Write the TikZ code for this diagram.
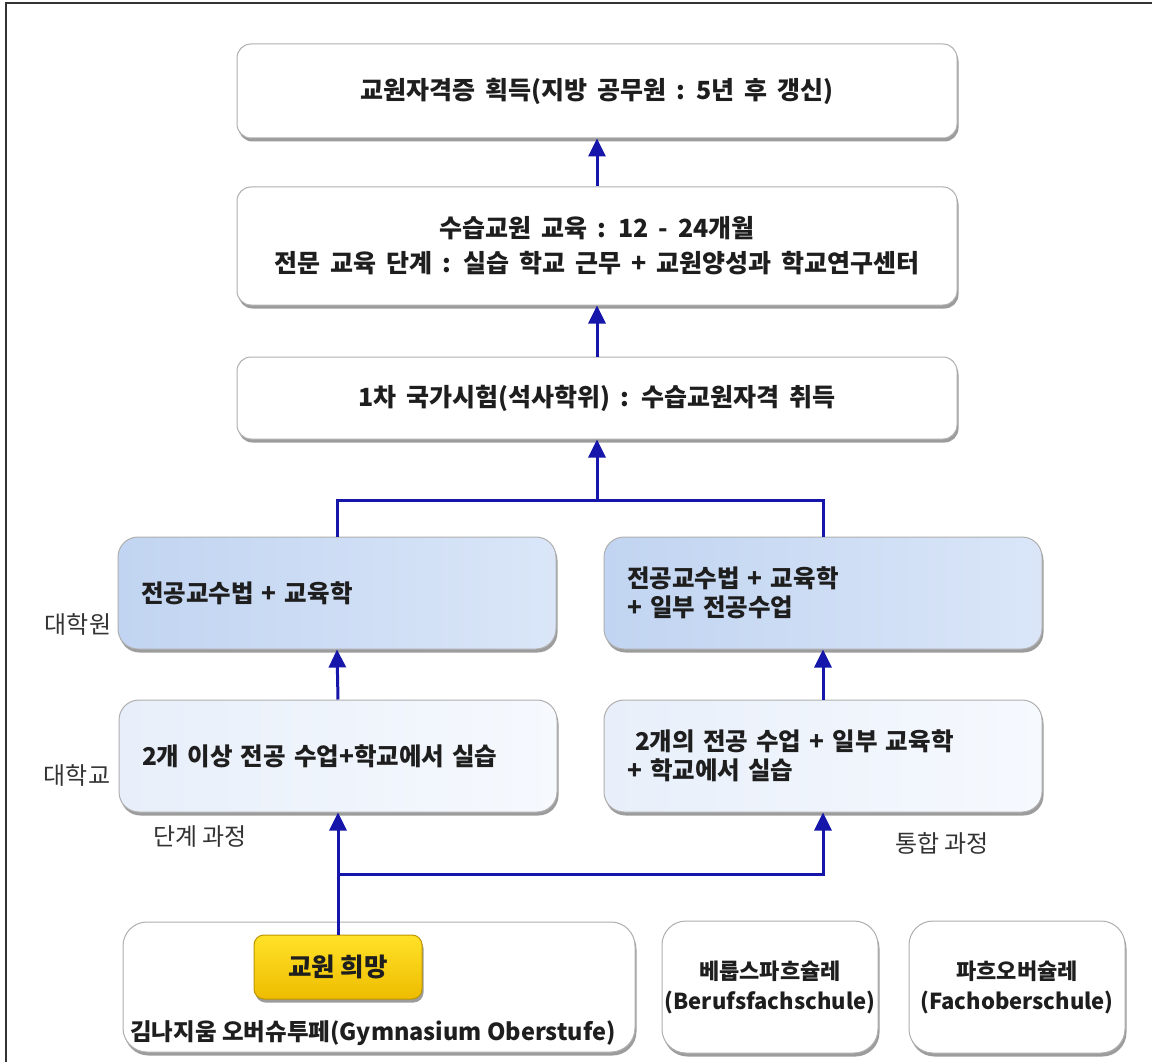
\documentclass[tikz,border=0pt]{standalone}
\usepackage{fontspec}
\setmainfont{Noto Sans CJK KR}
\usetikzlibrary{arrows.meta,shadows}
\definecolor{arrowblue}{RGB}{22,22,170}
\definecolor{txt}{RGB}{30,30,30}
\definecolor{bordergray}{RGB}{175,175,175}
\definecolor{blueA}{RGB}{193,212,241}
\definecolor{blueB}{RGB}{218,230,248}
\definecolor{lightA}{RGB}{232,239,250}
\definecolor{lightB}{RGB}{246,249,254}
\definecolor{goldA}{RGB}{255,226,40}
\definecolor{goldB}{RGB}{238,188,0}
\definecolor{goldD}{RGB}{190,150,0}
\newcommand\fbig{\fontsize{25pt}{35pt}\selectfont\bfseries\spaceskip=10pt plus 2pt minus 2pt\relax}
\newcommand\fmid{\fontsize{24.5pt}{29pt}\selectfont\bfseries}
\newcommand\fgym{\fontsize{23.5pt}{29pt}\selectfont\bfseries}
\newcommand\fschool{\fontsize{22pt}{30pt}\selectfont\bfseries}
\newcommand\fgold{\fontsize{25.5pt}{29pt}\selectfont\bfseries}
\newcommand\fside{\fontsize{24pt}{28pt}\selectfont}
\tikzset{
  x=1pt, y=-1pt,
  shade/.style={drop shadow={shadow xshift=1.5pt, shadow yshift=-3.5pt, opacity=0.55, fill=black!70}},
  topbox/.style={shade, draw=bordergray, line width=1pt, fill=white, rounded corners=14pt,
    minimum width=720pt, text=txt, align=center, font=\fbig, inner sep=0pt},
  bluebox/.style={shade, draw=bordergray, line width=1pt, left color=blueA, right color=blueB,
    rounded corners=20pt, minimum width=438pt, minimum height=112pt, text width=392pt,
    inner xsep=23pt, inner ysep=0pt, align=left, text=txt, font=\fmid},
  lightbox/.style={bluebox, left color=lightA, right color=lightB},
  schoolbox/.style={shade, draw=bordergray, line width=1pt, fill=white, rounded corners=24pt,
    inner sep=0pt, align=center, text=txt, font=\fschool},
  goldbox/.style={shade, draw=goldD, line width=1pt, top color=goldA, bottom color=goldB,
    rounded corners=10pt, minimum width=168pt, minimum height=64pt, inner sep=0pt,
    text=txt, font=\fgold},
  sidelabel/.style={text=black!80, font=\fside, inner sep=0pt},
  conn/.style={draw=arrowblue, line width=3pt},
  arr/.style={conn, -{Triangle[length=18pt,width=17pt]}}
}
\begin{document}
\begin{tikzpicture}
\useasboundingbox (0,0) rectangle (1152,1062);
\fill[white] (0,0) rectangle (1152,1062);
\draw[black!80, line width=2pt] (6,1070) -- (6,3) -- (1160,3);

% top chain
\node[topbox, minimum height=94pt] (t1) at (597,91) {교원자격증 획득(지방 공무원 : 5년 후 갱신)};
\node[topbox, minimum height=118pt] (t2) at (597,246) {수습교원 교육 : 12 - 24개월\\전문 교육 단계 : 실습 학교 근무 + 교원양성과 학교연구센터};
\node[topbox, minimum height=82pt] (t3) at (597,398) {1차 국가시험(석사학위) : 수습교원자격 취득};

% graduate level
\node[bluebox] (bl) at (337,593) {전공교수법 + 교육학};
\node[bluebox] (br) at (823,593) {전공교수법 + 교육학\\+ 일부 전공수업};

% university level
\node[lightbox] (ll) at (338,756) {2개 이상 전공 수업+학교에서 실습};
\node[lightbox] (rl) at (823,756) {\hspace*{8pt}2개의 전공 수업 + 일부 교육학\\+ 학교에서 실습};

% schools
\node[schoolbox, minimum width=512pt, minimum height=130pt] (gy) at (379,987) {};
\node[text=txt, font=\fgym, inner sep=0pt] (gyt) at (373,1033) {김나지움 오버슈투페(Gymnasium Oberstufe)};
\node[goldbox] (wish) at (338,967) {교원 희망};
\node[schoolbox, minimum width=216pt, minimum height=132pt] (bf) at (770,987) {베룹스파흐슐레\\(Berufsfachschule)};
\node[schoolbox, minimum width=216pt, minimum height=132pt] (fo) at (1017,987) {파흐오버슐레\\(Fachoberschule)};

% side labels
\node[sidelabel] (lgrad) at (78,624) {대학원};
\node[sidelabel] (luni) at (77,775) {대학교};
\node[sidelabel] (lstep) at (200,837) {단계 과정};
\node[sidelabel] (lint) at (942,843) {통합 과정};

% connectors
\coordinate (j1) at (597,500);
\coordinate (j2) at (338,874);
\draw[conn] (bl.north) -- (bl.north |- j1) -- (br.north |- j1) -- (br.north);
\draw[arr] (j1) -- (t3.south);
\draw[arr] (t3.north) -- (t2.south);
\draw[arr] (t2.north) -- (t1.south);
\draw[arr] (ll.north) -- (bl.south);
\draw[arr] (rl.north) -- (br.south);
\draw[arr] (wish.north) -- (ll.south);
\draw[arr] (j2) -- (j2 -| rl.south) -- (rl.south);
\end{tikzpicture}
\end{document}
